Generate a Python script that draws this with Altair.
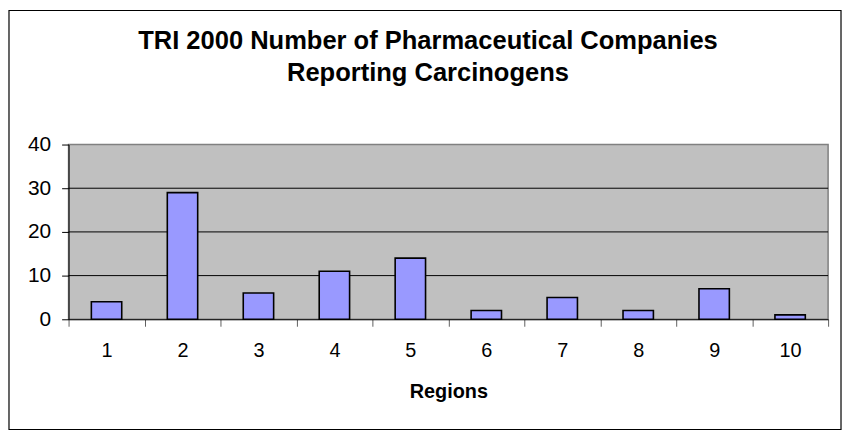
import altair as alt
import pandas as pd

regions = ["1", "2", "3", "4", "5", "6", "7", "8", "9", "10"]
counts = [4, 29, 6, 11, 14, 2, 5, 2, 7, 1]
y_ticks = [0, 10, 20, 30, 40]
grid_values = [10, 20, 30]
title_lines = ["TRI 2000 Number of Pharmaceutical Companies", "Reporting Carcinogens"]

df = pd.DataFrame({"Region": regions, "Count": counts})
grid_df = pd.DataFrame({"g": grid_values})
one = pd.DataFrame({"a": [0]})

W, H = 765, 176
PL, PT, PR, PB = 61, 136, 14, 112
FONT = "Liberation Sans"

x_enc = alt.X(
    "Region:N", sort=regions, title="Regions",
    scale=alt.Scale(paddingInner=0, paddingOuter=0),
    axis=alt.Axis(labelAngle=0, tickBand="extent", tickSize=7, tickColor="#606060",
                  domainColor="black", labelFontSize=20, labelFont=FONT, labelColor="black",
                  labelPadding=14, titleFontSize=20, titleFont=FONT, titleFontWeight="bold",
                  titleColor="black", titlePadding=22, grid=False),
)
y_enc = alt.Y(
    "Count:Q", title=None,
    scale=alt.Scale(domain=[0, 40]),
    axis=alt.Axis(values=y_ticks, tickSize=7, tickColor="black", domainColor="black",
                  labelFontSize=21, labelFont=FONT, labelColor="black", labelPadding=11,
                  grid=False),
)

grid = alt.Chart(grid_df).mark_rule(color="black", strokeWidth=1).encode(
    y=alt.Y("g:Q", scale=alt.Scale(domain=[0, 40]))
)

bars = alt.Chart(df).mark_bar(
    width={"band": 0.4}, fill="#9999FF", stroke="black", strokeWidth=1.6
).encode(x=x_enc, y=y_enc)

frame = alt.Chart(one).mark_rect(
    fillOpacity=0, stroke="black", strokeWidth=1.2, clip=False
).encode(
    x=alt.value(-PL + 1), x2=alt.value(W + PR - 1),
    y=alt.value(-PT + 1), y2=alt.value(H + PB - 1),
)

title_x = 362
title1 = alt.Chart(one).mark_text(
    text=title_lines[0], font=FONT, fontSize=25.7, fontWeight="bold", color="black",
    align="center", baseline="alphabetic", clip=False,
).encode(x=alt.value(title_x), y=alt.value(-96.5))
title2 = alt.Chart(one).mark_text(
    text=title_lines[1], font=FONT, fontSize=25.7, fontWeight="bold", color="black",
    align="center", baseline="alphabetic", clip=False,
).encode(x=alt.value(title_x), y=alt.value(-64))

chart = alt.layer(frame, grid, bars, title1, title2).properties(
    width=W, height=H,
    autosize=alt.AutoSizeParams(type="none"),
    padding={"left": PL, "top": PT, "right": PR, "bottom": PB},
    background="white",
).configure_view(fill="#C0C0C0", stroke="#808080", strokeWidth=1.5)

chart.save("out.html", embed_options={"renderer": "svg", "actions": False})
